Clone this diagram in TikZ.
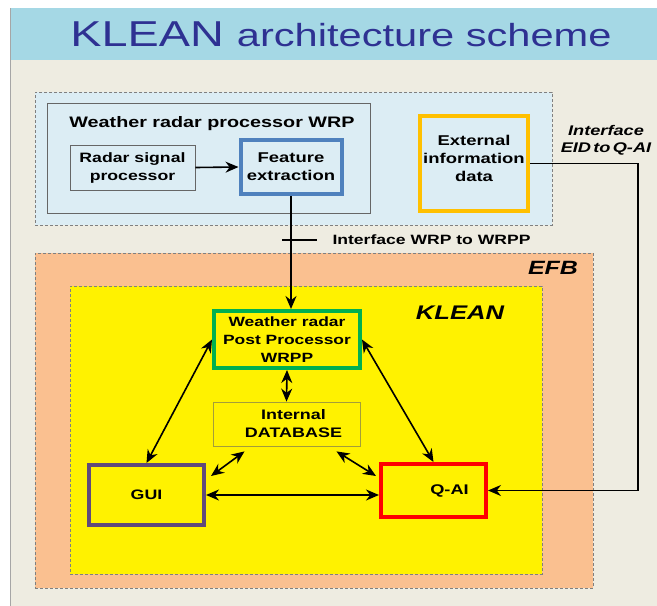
\documentclass[tikz,border=0pt]{standalone}
\usepackage{fontspec}
\setmainfont{Liberation Sans}[FakeStretch=1.3]
\usepackage{tikz}
\usetikzlibrary{positioning,arrows.meta}

\definecolor{bandblue}{HTML}{A5D8E5}
\definecolor{paper}{HTML}{EEECE1}
\definecolor{zoneblue}{HTML}{DCEDF4}
\definecolor{peach}{HTML}{FAC090}
\definecolor{titleblue}{HTML}{2E3192}
\definecolor{featblue}{HTML}{4F81BD}
\definecolor{extorange}{HTML}{FFC000}
\definecolor{wrppgreen}{HTML}{00B050}
\definecolor{guipurple}{HTML}{604A7B}
\definecolor{dbline}{HTML}{A39E3A}

\newcommand{\boxfont}[1]{\fontsize{#1}{18}\selectfont\bfseries}
\newcommand{\eidfont}{\fontsize{14}{17}\selectfont\bfseries\itshape\spaceskip=0.16em\relax}

\tikzset{
  zone/.style={rectangle, draw=gray, densely dashed, line width=0.6pt},
  thinbox/.style={rectangle, draw=#1, line width=0.8pt, align=center},
  thickbox/.style={rectangle, draw=#1, line width=4pt, align=center},
  link/.style={{Stealth[length=13pt, width=11pt]}-{Stealth[length=13pt, width=11pt]}, line width=1.6pt},
  feed/.style={-{Stealth[length=13pt, width=11pt]}, line width=1.6pt},
}

\begin{document}
\begin{tikzpicture}[x=1pt, y=-1pt]
		\useasboundingbox (0,0) rectangle (657,606);
		\fill[white] (0,0) rectangle (657,606);
		\fill[paper] (10,8) rectangle (657,606);
		\fill[bandblue] (10,8) rectangle (657,60);
		\draw[gray!70, line width=0.6pt] (10,8) -- (10,606);
		\node[text=titleblue] (title) at (341,34) {\fontsize{36}{40}\selectfont KLEAN \fontsize{32}{40}\selectfont architecture scheme};
		% radar side
		\node[zone, fill=zoneblue, minimum width=517, minimum height=133] (wrpzone) at (293.5,158.5) {};
		\node[thinbox=gray!80!black, minimum width=323, minimum height=110] (wrp) at (208.5,158) {};
		\node[font=\boxfont{15.2}] (wrplabel) at (212,124) {Weather radar processor WRP};
		\node[thinbox=gray!80!black, fill=zoneblue, minimum width=125, minimum height=45, font=\boxfont{13.6}] (rsp) at (132.5,167.5) {Radar signal\\processor};
		\node[thickbox=featblue, fill=zoneblue, minimum width=101, minimum height=54, font=\boxfont{14.2}] (feat) at (291,167) {Feature\\extraction};
		\node[thickbox=extorange, fill=zoneblue, minimum width=108, minimum height=95] (ext) at (474,163.5) {};
		\node[align=center, font=\boxfont{14.2}] (extlabel) at (474,158) {External\\information\\data};
		% EFB side
		\node[zone, fill=peach, minimum width=558, minimum height=335] (efb) at (314,420.5) {};
		\node[font=\fontsize{19.2}{24}\selectfont\bfseries\itshape] (efblabel) at (553,268) {EFB};
		\node[zone, fill=yellow, minimum width=472, minimum height=288] (klean) at (306,430) {};
		\node[font=\fontsize{19.7}{24}\selectfont\bfseries\itshape] (kleanlabel) at (460,313) {KLEAN};
		\node[thickbox=wrppgreen, minimum width=146, minimum height=57, font=\boxfont{13.4}] (wrpp) at (287,339.5) {Weather radar\\Post Processor\\WRPP};
		\node[thinbox=dbline, minimum width=147, minimum height=44, font=\boxfont{13.8}] (db) at (286.5,424) {\hspace*{14pt}Internal\\\hspace*{14pt}DATABASE};
		\node[thickbox=guipurple, minimum width=115, minimum height=60, font=\boxfont{13.7}] (gui) at (146.5,495) {GUI};
		\node[thickbox=red, minimum width=105, minimum height=53, font=\boxfont{14}] (qai) at (433.5,490.5) {\hspace*{32pt}Q-AI};
		% interfaces
		\coordinate (tickl) at (282,240);
		\coordinate (tickr) at (317,240);
		\coordinate (bend) at (638,0 |- ext.east);
		\node[anchor=west, font=\boxfont{13.5}] (wrpif) at (329,240) {Interface WRP to WRPP};
		\node[align=center, font=\eidfont] (eidif) at (606,140) {Interface\\EID to Q-AI};
		\draw[feed] (feat.south) -- (feat.south |- wrpp.north);
		\draw[line width=1.6pt] (tickl) -- (tickr);
		\draw[feed] (ext.east) -- (bend) |- (qai.east);
		\draw[feed] (rsp.east) -- (feat.west);
		% links inside KLEAN
		\draw[link] (wrpp.west) -- (gui.north);
		\draw[link] (wrpp.east) -- (qai.north);
		\draw[link] (wrpp.south) -- (db.north);
		\draw[link] ([xshift=5pt, yshift=-13pt]gui.north east) -- ([xshift=-42pt, yshift=-5pt]db.south);
		\draw[link] ([xshift=50pt, yshift=-5pt]db.south) -- ([xshift=-3pt, yshift=-14pt]qai.north west);
		\draw[link] (gui.east) -- (gui.east -| qai.west);
\end{tikzpicture}
\end{document}
